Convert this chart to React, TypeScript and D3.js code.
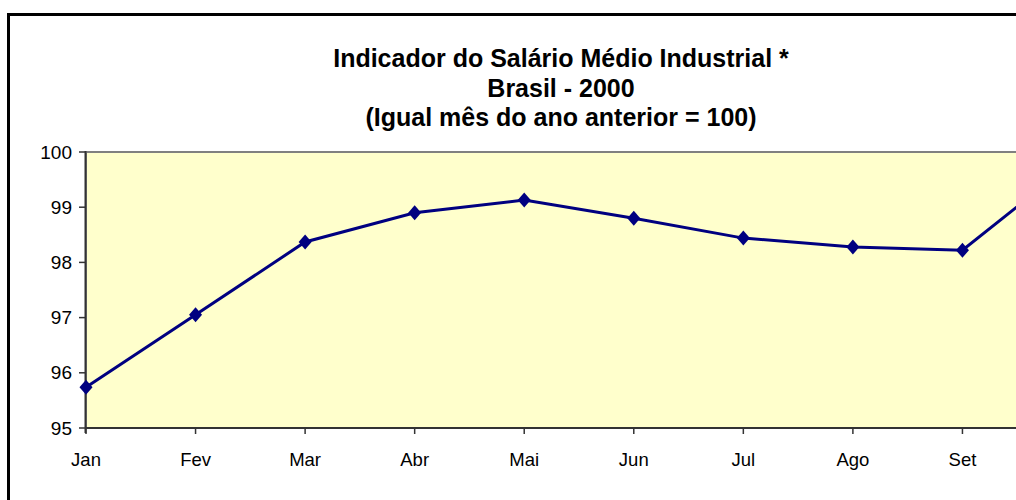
import React from "react";
import * as d3 from "d3";

// valores (Out estimado, fica fora da área visível)
const months = ["Jan", "Fev", "Mar", "Abr", "Mai", "Jun", "Jul", "Ago", "Set", "Out"];
const values = [95.74, 97.05, 98.37, 98.9, 99.13, 98.8, 98.44, 98.28, 98.22, 99.8];
const yTicks = [95, 96, 97, 98, 99, 100];
const titleLines = [
  "Indicador do Salário Médio Industrial *",
  "Brasil - 2000",
  "(Igual mês do ano anterior = 100)",
];

const width = 1016;
const height = 500;
const plot = { left: 86, top: 152, right: 1072, bottom: 428 };
const font = "'Liberation Sans', Arial, sans-serif";

// marcador losango (um pouco mais alto que largo, como no original)
const diamond = "M0,-7.5L6.5,0L0,7.5L-6.5,0Z";

export default function App() {
  const x = d3.scalePoint<string>().domain(months).range([plot.left, plot.right]);
  const y = d3.scaleLinear().domain([95, 100]).range([plot.bottom, plot.top]);

  const line = d3
    .line<number>()
    .x((_, i) => x(months[i]) as number)
    .y((d) => y(d));

  return (
    <div style={{ position: "absolute", left: 0, top: 0, width, height, overflow: "hidden", background: "#fff" }}>
      <svg width={width} height={height} style={{ display: "block", fontFamily: font }}>
        {/* moldura do gráfico */}
        <rect x={8.5} y={14.5} width={1104} height={560} fill="#fff" stroke="#000" strokeWidth={3} />

        {/* título */}
        {titleLines.map((t, i) => (
          <text key={i} x={561} y={67 + i * 29.5} textAnchor="middle" fontSize={25} fontWeight="bold" fill="#000">
            {t}
          </text>
        ))}

        {/* área de plotagem */}
        <rect
          x={plot.left}
          y={plot.top}
          width={plot.right - plot.left}
          height={plot.bottom - plot.top}
          fill="#FFFFCC"
          stroke="#808080"
          strokeWidth={2}
        />

        {/* eixo Y */}
        <line x1={plot.left - 0.5} x2={plot.left - 0.5} y1={plot.top - 1} y2={plot.bottom + 5} stroke="#333" strokeWidth={2} />
        {yTicks.map((t) => (
          <g key={t} transform={`translate(0,${y(t)})`}>
            <line x1={plot.left - 7} x2={plot.left} stroke="#333" strokeWidth={1.5} />
            <text x={72} dy="0.35em" textAnchor="end" fontSize={19} fill="#000">
              {t}
            </text>
          </g>
        ))}

        {/* eixo X */}
        <line x1={plot.left - 1} x2={plot.right + 2} y1={plot.bottom} y2={plot.bottom} stroke="#333" strokeWidth={2} />
        {months.map((m) => (
          <g key={m} transform={`translate(${x(m)},0)`}>
            <line y1={plot.bottom} y2={plot.bottom + 6} stroke="#333" strokeWidth={1.5} />
            {(x(m) as number) < width - 20 && (
              <text y={466} textAnchor="middle" fontSize={18.5} fill="#000">
                {m}
              </text>
            )}
          </g>
        ))}

        {/* série */}
        <path d={line(values) ?? ""} fill="none" stroke="#000080" strokeWidth={3} />
        {values.map((v, i) => (
          <path key={i} d={diamond} transform={`translate(${x(months[i])},${y(v)})`} fill="#000080" />
        ))}
      </svg>
    </div>
  );
}
